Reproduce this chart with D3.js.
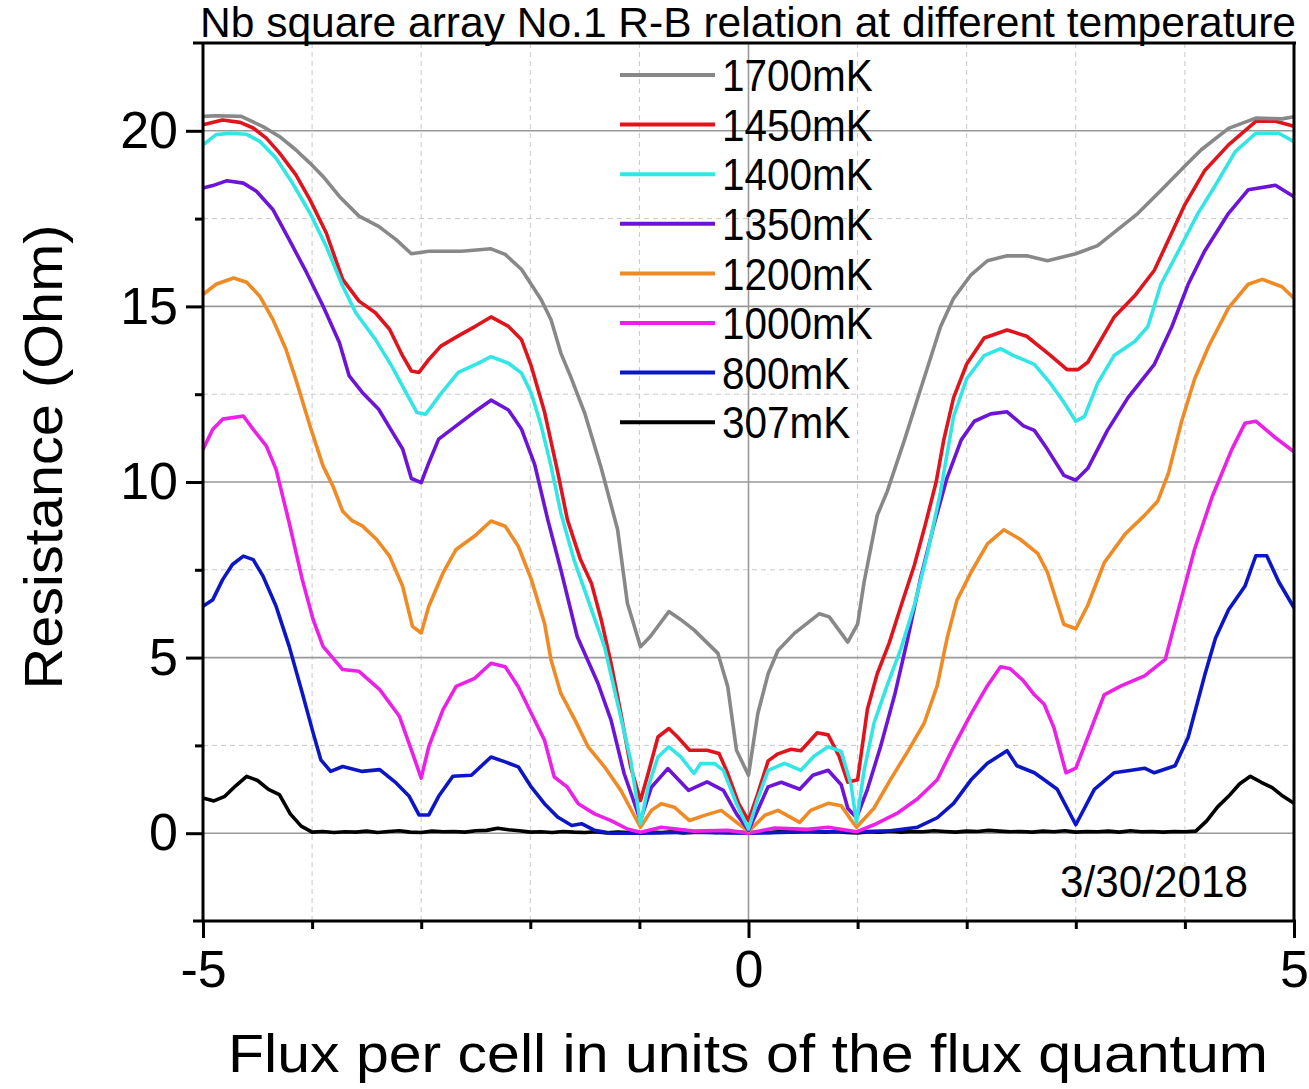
<!DOCTYPE html>
<html lang="en">
<head>
<meta charset="UTF-8">
<title>Nb square array R-B</title>
<script src="https://cdn.jsdelivr.net/npm/d3@7"></script>
<style>
  body { margin: 0; background: #fff; }
  text { font-family: "Liberation Sans", Arial, sans-serif; fill: #000; }
</style>
</head>
<body>
<script>
// data: [flux per cell, resistance in Ohm]
var r1700 = [[-5,20.41],[-4.88,20.43],[-4.65,20.41],[-4.45,20.12],[-4.3,19.84],[-4.15,19.46],[-4.02,19.08],[-3.9,18.7],[-3.75,18.13],[-3.57,17.57],[-3.39,17.28],[-3.23,16.9],[-3.09,16.5],[-2.93,16.57],[-2.63,16.57],[-2.36,16.64],[-2.23,16.48],[-2.08,16.05],[-1.9,15.19],[-1.81,14.62],[-1.72,13.67],[-1.63,13.0],[-1.5,11.95],[-1.35,10.4],[-1.2,8.65],[-1.11,6.55],[-0.99,5.31],[-0.9,5.6],[-0.73,6.31],[-0.62,6.08],[-0.5,5.79],[-0.28,5.12],[-0.19,4.17],[-0.11,2.36],[0,1.65],[0.085,3.4],[0.18,4.54],[0.27,5.2],[0.42,5.69],[0.65,6.25],[0.74,6.16],[0.91,5.44],[1.0,5.95],[1.06,7.16],[1.18,9.05],[1.27,9.72],[1.43,11.2],[1.58,12.67],[1.76,14.42],[1.88,15.23],[2.04,15.9],[2.19,16.3],[2.37,16.44],[2.55,16.44],[2.74,16.3],[3.0,16.5],[3.2,16.73],[3.57,17.65],[3.78,18.3],[4.0,19.0],[4.15,19.46],[4.4,20.07],[4.65,20.36],[4.89,20.34],[5.0,20.4]];
var r1450 = [[-5,20.17],[-4.82,20.31],[-4.66,20.24],[-4.54,20.08],[-4.42,19.79],[-4.3,19.37],[-4.15,18.75],[-4.02,18.04],[-3.87,17.09],[-3.72,15.77],[-3.57,15.15],[-3.42,14.82],[-3.29,14.35],[-3.17,13.59],[-3.09,13.16],[-3.02,13.12],[-2.93,13.49],[-2.82,13.87],[-2.66,14.16],[-2.5,14.44],[-2.36,14.7],[-2.2,14.43],[-2.08,14.05],[-1.99,13.29],[-1.87,12.0],[-1.75,10.3],[-1.66,8.93],[-1.54,7.79],[-1.44,7.12],[-1.35,6.08],[-1.26,4.84],[-1.17,3.41],[-1.08,1.89],[-0.99,0.93],[-0.92,1.7],[-0.83,2.74],[-0.73,2.98],[-0.65,2.74],[-0.54,2.36],[-0.38,2.36],[-0.27,2.27],[-0.19,1.7],[-0.09,0.84],[0,0.36],[0.085,1.12],[0.18,2.06],[0.27,2.26],[0.39,2.39],[0.48,2.35],[0.63,2.86],[0.73,2.8],[0.83,2.19],[0.91,1.45],[1.0,1.52],[1.09,3.53],[1.18,4.54],[1.29,5.42],[1.4,6.49],[1.52,7.63],[1.62,8.78],[1.72,10.0],[1.79,11.2],[1.88,12.4],[2.0,13.36],[2.16,14.1],[2.37,14.33],[2.55,14.15],[2.77,13.6],[2.92,13.2],[3.02,13.2],[3.11,13.41],[3.35,14.69],[3.54,15.3],[3.72,16.03],[3.88,17.1],[4.0,17.9],[4.18,18.86],[4.4,19.6],[4.65,20.27],[4.83,20.27],[5.0,20.13]];
var r1400 = [[-5,19.6],[-4.88,19.89],[-4.75,19.93],[-4.6,19.9],[-4.48,19.7],[-4.33,19.22],[-4.18,18.51],[-4.02,17.66],[-3.87,16.71],[-3.72,15.58],[-3.6,14.82],[-3.42,14.06],[-3.27,13.3],[-3.14,12.55],[-3.04,11.98],[-2.96,11.93],[-2.81,12.55],[-2.66,13.12],[-2.48,13.38],[-2.36,13.57],[-2.2,13.38],[-2.08,13.1],[-1.99,12.52],[-1.9,11.6],[-1.81,10.45],[-1.72,9.12],[-1.6,7.79],[-1.45,6.46],[-1.32,5.31],[-1.2,3.7],[-1.08,2.08],[-0.99,0.27],[-0.92,1.31],[-0.83,2.17],[-0.73,2.46],[-0.62,2.17],[-0.5,1.7],[-0.44,1.98],[-0.31,1.98],[-0.23,1.79],[-0.11,0.84],[0,0.12],[0.085,0.98],[0.18,1.79],[0.33,1.99],[0.48,1.79],[0.6,2.19],[0.73,2.46],[0.85,2.33],[0.94,1.38],[0.99,0.31],[1.06,1.79],[1.15,3.13],[1.27,4.2],[1.4,5.28],[1.52,6.49],[1.64,7.97],[1.76,9.72],[1.88,11.87],[2.0,12.94],[2.16,13.6],[2.31,13.8],[2.43,13.6],[2.62,13.35],[2.77,12.8],[2.89,12.27],[3.0,11.73],[3.08,11.87],[3.2,12.81],[3.35,13.6],[3.54,14.0],[3.66,14.42],[3.78,15.63],[3.94,16.57],[4.12,17.65],[4.28,18.45],[4.46,19.4],[4.65,19.93],[4.86,19.93],[5.0,19.69]];
var r1350 = [[-5,18.37],[-4.91,18.44],[-4.78,18.58],[-4.63,18.51],[-4.51,18.28],[-4.36,17.76],[-4.21,16.9],[-4.05,15.96],[-3.9,15.01],[-3.75,13.97],[-3.66,13.02],[-3.54,12.55],[-3.39,12.07],[-3.26,11.4],[-3.17,10.94],[-3.09,10.1],[-3.0,9.98],[-2.93,10.55],[-2.84,11.22],[-2.68,11.6],[-2.5,12.02],[-2.36,12.33],[-2.2,12.05],[-2.08,11.5],[-1.96,10.5],[-1.84,8.93],[-1.72,7.5],[-1.57,5.6],[-1.38,4.27],[-1.26,3.22],[-1.14,1.7],[-0.99,0.36],[-0.89,1.31],[-0.74,1.84],[-0.55,1.22],[-0.38,1.46],[-0.23,1.22],[-0.11,0.55],[0,0.08],[0.18,1.32],[0.3,1.45],[0.47,1.25],[0.59,1.65],[0.73,1.79],[0.85,1.38],[0.91,0.71],[0.99,0.44],[1.09,1.25],[1.21,2.46],[1.34,3.94],[1.46,5.55],[1.58,7.3],[1.7,8.78],[1.82,10.12],[1.95,11.2],[2.07,11.73],[2.22,11.94],[2.37,12.0],[2.52,11.6],[2.62,11.47],[2.74,10.93],[2.89,10.19],[3.0,10.05],[3.11,10.39],[3.29,11.47],[3.48,12.41],[3.72,13.35],[3.88,14.42],[4.03,15.63],[4.18,16.57],[4.4,17.65],[4.58,18.32],[4.83,18.45],[5.0,18.12]];
var r1200 = [[-5,15.34],[-4.88,15.63],[-4.72,15.81],[-4.6,15.69],[-4.48,15.29],[-4.36,14.63],[-4.24,13.78],[-4.15,12.93],[-4.02,11.6],[-3.9,10.46],[-3.81,9.89],[-3.72,9.17],[-3.63,8.89],[-3.54,8.75],[-3.41,8.37],[-3.29,7.89],[-3.17,7.03],[-3.08,5.89],[-3.0,5.7],[-2.93,6.46],[-2.8,7.41],[-2.68,8.08],[-2.51,8.46],[-2.36,8.89],[-2.23,8.74],[-2.11,8.17],[-1.99,7.22],[-1.87,5.98],[-1.81,4.93],[-1.72,3.98],[-1.59,3.22],[-1.47,2.46],[-1.32,1.89],[-1.17,1.22],[-0.99,0.17],[-0.89,0.65],[-0.8,0.84],[-0.68,0.74],[-0.54,0.36],[-0.41,0.5],[-0.25,0.65],[-0.13,0.36],[0,0.05],[0.15,0.51],[0.27,0.65],[0.47,0.31],[0.57,0.65],[0.73,0.85],[0.85,0.78],[0.94,0.38],[0.99,0.17],[1.15,0.71],[1.3,1.52],[1.46,2.33],[1.61,3.13],[1.73,4.2],[1.82,5.55],[1.91,6.63],[2.04,7.43],[2.19,8.24],[2.34,8.64],[2.49,8.37],[2.65,7.97],[2.74,7.43],[2.89,5.95],[3.0,5.82],[3.11,6.49],[3.26,7.7],[3.45,8.51],[3.63,9.05],[3.75,9.45],[3.85,10.26],[3.97,11.73],[4.09,12.94],[4.22,13.88],[4.4,14.96],[4.58,15.63],[4.71,15.77],[4.89,15.56],[5.0,15.23]];
var r1000 = [[-5,10.93],[-4.91,11.5],[-4.82,11.79],[-4.63,11.88],[-4.54,11.5],[-4.42,11.03],[-4.33,10.36],[-4.21,8.84],[-4.09,7.22],[-3.99,6.08],[-3.9,5.32],[-3.72,4.66],[-3.57,4.61],[-3.38,4.09],[-3.2,3.33],[-3.08,2.28],[-3.0,1.57],[-2.93,2.47],[-2.8,3.52],[-2.68,4.18],[-2.51,4.41],[-2.36,4.84],[-2.23,4.74],[-2.11,4.17],[-1.99,3.41],[-1.87,2.65],[-1.78,1.6],[-1.66,1.31],[-1.56,0.84],[-1.41,0.55],[-1.26,0.36],[-1.11,0.12],[-0.99,0.03],[-0.8,0.17],[-0.5,0.06],[-0.19,0.08],[0,0.0],[0.24,0.15],[0.54,0.11],[0.73,0.17],[0.99,0.04],[1.15,0.24],[1.37,0.58],[1.55,0.98],[1.73,1.52],[1.88,2.46],[2.04,3.4],[2.19,4.2],[2.31,4.74],[2.4,4.68],[2.52,4.34],[2.62,3.94],[2.71,3.67],[2.8,3.0],[2.91,1.72],[3.0,1.85],[3.11,2.73],[3.26,3.94],[3.42,4.2],[3.63,4.48],[3.82,4.95],[3.94,6.36],[4.09,8.1],[4.25,9.58],[4.43,10.93],[4.55,11.67],[4.65,11.73],[4.83,11.26],[5.0,10.86]];
var r800 = [[-5,6.46],[-4.91,6.65],[-4.82,7.22],[-4.73,7.65],[-4.63,7.89],[-4.54,7.79],[-4.45,7.32],[-4.33,6.46],[-4.21,5.32],[-4.09,3.99],[-3.99,2.85],[-3.92,2.09],[-3.83,1.76],[-3.72,1.9],[-3.54,1.76],[-3.38,1.81],[-3.23,1.43],[-3.11,1.05],[-3.02,0.52],[-2.93,0.52],[-2.84,1.05],[-2.71,1.62],[-2.54,1.65],[-2.36,2.17],[-2.23,2.03],[-2.11,1.89],[-1.99,1.31],[-1.87,0.84],[-1.75,0.46],[-1.62,0.22],[-1.53,0.27],[-1.41,0.08],[-1.26,0.0],[-0.99,0.0],[-0.5,0.03],[-0.2,0.01],[0,0.0],[0.54,0.04],[0.99,0.04],[1.3,0.07],[1.55,0.17],[1.73,0.44],[1.88,0.85],[2.04,1.52],[2.19,1.99],[2.37,2.35],[2.46,1.92],[2.62,1.72],[2.71,1.52],[2.83,1.25],[3.0,0.24],[3.17,1.25],[3.35,1.72],[3.51,1.79],[3.63,1.85],[3.72,1.72],[3.91,1.92],[4.03,2.73],[4.18,4.48],[4.28,5.55],[4.4,6.36],[4.55,7.03],[4.65,7.9],[4.75,7.9],[4.86,7.16],[5.0,6.42]];
// 307mK, read every 0.1 flux quantum from -5 to 5
var flux307 = [-5.0,-4.9,-4.8,-4.7,-4.6,-4.5,-4.4,-4.3,-4.2,-4.1,-4.0,-3.9,-3.8,-3.7,-3.6,-3.5,-3.4,-3.3,-3.2,-3.1,-3.0,-2.9,-2.8,-2.7,-2.6,-2.5,-2.4,-2.3,-2.2,-2.1,-2.0,-1.9,-1.8,-1.7,-1.6,-1.5,-1.4,-1.3,-1.2,-1.1,-1.0,-0.9,-0.8,-0.7,-0.6,-0.5,-0.4,-0.3,-0.2,-0.1,0.0,0.1,0.2,0.3,0.4,0.5,0.6,0.7,0.8,0.9,1.0,1.1,1.2,1.3,1.4,1.5,1.6,1.7,1.8,1.9,2.0,2.1,2.2,2.3,2.4,2.5,2.6,2.7,2.8,2.9,3.0,3.1,3.2,3.3,3.4,3.5,3.6,3.7,3.8,3.9,4.0,4.1,4.2,4.3,4.4,4.5,4.6,4.7,4.8,4.9,5.0];
var res307 = [1.00,0.92,1.05,1.35,1.62,1.50,1.25,1.10,0.55,0.20,0.03,0.05,0.02,0.04,0.03,0.06,0.02,0.05,0.07,0.03,0.02,0.06,0.04,0.05,0.03,0.07,0.08,0.14,0.10,0.07,0.03,0.04,0.02,0.05,0.03,0.02,0.04,0.01,0.03,0.02,0.00,0.03,0.02,0.04,0.01,0.03,0.05,0.02,0.04,0.03,0.01,0.03,0.02,0.05,0.03,0.06,0.04,0.03,0.05,0.02,0.01,0.04,0.03,0.06,0.03,0.05,0.04,0.07,0.05,0.03,0.06,0.05,0.08,0.06,0.04,0.05,0.03,0.06,0.04,0.07,0.03,0.05,0.04,0.06,0.03,0.07,0.04,0.05,0.03,0.05,0.04,0.06,0.35,0.75,1.05,1.40,1.62,1.45,1.30,1.05,0.85];
var r307 = flux307.map(function(f, i){ return [f, res307[i]]; });

var labels = ["1700mK","1450mK","1400mK","1350mK","1200mK","1000mK","800mK","307mK"];
var colors = ["#888888","#e0141c","#33e6e6","#6c14d8","#ef8a24","#ec20e6","#0c16c6","#000000"];
var seriesData = [r1700, r1450, r1400, r1350, r1200, r1000, r800, r307];

var xMajorTicks = [-5, 0, 5];
var xMinorTicks = [-4, -3, -2, -1, 1, 2, 3, 4];
var yMajorTicks = [0, 5, 10, 15, 20];
var yMinorTicks = [2.5, 7.5, 12.5, 17.5];

var W = 1309, H = 1089;
var plotL = 203, plotR = 1294, plotT = 43, plotB = 921;

var svg = d3.select('body').append('svg')
  .attr('width', W)
  .attr('height', H);

var x = d3.scaleLinear().domain([-5, 5]).range([plotL, plotR]);
var y = d3.scaleLinear().domain([-2.5, 22.5]).range([plotB, plotT]);

// grid
var grid = svg.append('g');
grid.selectAll('.hminor').data(yMinorTicks)
  .enter().append('line')
  .attr('x1', plotL).attr('x2', plotR)
  .attr('y1', function(d){ return y(d); }).attr('y2', function(d){ return y(d); })
  .attr('stroke', '#c8c8c8').attr('stroke-width', 1).attr('stroke-dasharray', '5,4');
grid.selectAll('.vminor').data(xMinorTicks)
  .enter().append('line')
  .attr('x1', function(d){ return x(d); }).attr('x2', function(d){ return x(d); })
  .attr('y1', plotT).attr('y2', plotB)
  .attr('stroke', '#c8c8c8').attr('stroke-width', 1).attr('stroke-dasharray', '5,4');
grid.selectAll('.hmajor').data(yMajorTicks)
  .enter().append('line')
  .attr('x1', plotL).attr('x2', plotR)
  .attr('y1', function(d){ return y(d); }).attr('y2', function(d){ return y(d); })
  .attr('stroke', '#999').attr('stroke-width', 1.6);
grid.selectAll('.vmajor').data(xMajorTicks.filter(function(d){ return d > -5 && d < 5; }))
  .enter().append('line')
  .attr('x1', function(d){ return x(d); }).attr('x2', function(d){ return x(d); })
  .attr('y1', plotT).attr('y2', plotB)
  .attr('stroke', '#999').attr('stroke-width', 1.6);

// legend (sits under the curves, grid shows through)
var legend = svg.append('g');
labels.forEach(function(lab, i){
  var ly = 75 + i * 49.6;
  legend.append('line')
    .attr('x1', 620).attr('x2', 715).attr('y1', ly).attr('y2', ly)
    .attr('stroke', colors[i]).attr('stroke-width', 4);
  legend.append('text')
    .attr('transform', 'translate(722,' + ly + ') scale(0.9,1)')
    .attr('dy', '0.36em')
    .style('font-size', '45px')
    .text(lab);
});

// curves
var line = d3.line()
  .x(function(d){ return x(d[0]); })
  .y(function(d){ return y(d[1]); });

var drawOrder = [7, 6, 5, 4, 3, 1, 2, 0];
drawOrder.forEach(function(i){
  svg.append('path')
    .datum(seriesData[i])
    .attr('d', line)
    .attr('fill', 'none')
    .attr('stroke', colors[i])
    .attr('stroke-width', 3.6)
    .attr('stroke-linejoin', 'round');
});

// axes
var plainFmt = function(d){ return String(d); };
var xAxisMinor = d3.axisBottom(x).tickValues(xMinorTicks).tickSize(8).tickFormat('');
var xAxis = d3.axisBottom(x).tickValues(xMajorTicks).tickSize(17).tickPadding(12).tickFormat(plainFmt);
var yAxisMinor = d3.axisLeft(y).tickValues(yMinorTicks).tickSize(8).tickFormat('');
var yAxis = d3.axisLeft(y).tickValues(yMajorTicks).tickSize(17).tickPadding(8).tickFormat(plainFmt);

function styleAxis(g) {
  g.select('.domain').remove();
  g.selectAll('.tick line').attr('stroke', '#000').attr('stroke-width', 3);
  g.selectAll('.tick text').style('font-size', '52px').style('font-family', '"Liberation Sans", Arial, sans-serif').attr('fill', '#000');
}
svg.append('g').attr('transform', 'translate(0,' + plotB + ')').call(xAxisMinor).call(styleAxis);
svg.append('g').attr('transform', 'translate(0,' + plotB + ')').call(xAxis).call(styleAxis);
svg.append('g').attr('transform', 'translate(0,' + plotB + ')').call(function(g){ g.selectAll('.tick text').attr('y', 27); });
svg.append('g').attr('transform', 'translate(' + plotL + ',0)').call(yAxisMinor).call(styleAxis);
svg.append('g').attr('transform', 'translate(' + plotL + ',0)').call(yAxis).call(styleAxis);

// frame
var frame = svg.append('g').attr('stroke', '#000').attr('stroke-width', 3);
frame.append('line').attr('x1', 193).attr('x2', plotR + 2).attr('y1', plotT).attr('y2', plotT);
frame.append('line').attr('x1', 193).attr('x2', plotR + 2).attr('y1', plotB).attr('y2', plotB);
frame.append('line').attr('x1', plotL).attr('x2', plotL).attr('y1', plotT).attr('y2', plotB);
frame.append('line').attr('x1', plotR).attr('x2', plotR).attr('y1', plotT).attr('y2', plotB);

// texts
svg.append('text')
  .attr('x', 200).attr('y', 37)
  .style('font-size', '42px')
  .attr('textLength', 1096).attr('lengthAdjust', 'spacingAndGlyphs')
  .text('Nb square array No.1 R-B relation at different temperature');

svg.append('text')
  .attr('transform', 'translate(62,457) rotate(-90)')
  .attr('text-anchor', 'middle')
  .style('font-size', '54px')
  .attr('textLength', 465).attr('lengthAdjust', 'spacingAndGlyphs')
  .text('Resistance (Ohm)');

svg.append('text')
  .attr('x', 748).attr('y', 1072)
  .attr('text-anchor', 'middle')
  .style('font-size', '54px')
  .attr('textLength', 1040).attr('lengthAdjust', 'spacingAndGlyphs')
  .text('Flux per cell in units of the flux quantum');

svg.append('text')
  .attr('x', 1060).attr('y', 897)
  .style('font-size', '44px')
  .attr('textLength', 188).attr('lengthAdjust', 'spacingAndGlyphs')
  .text('3/30/2018');
</script>
</body>
</html>
